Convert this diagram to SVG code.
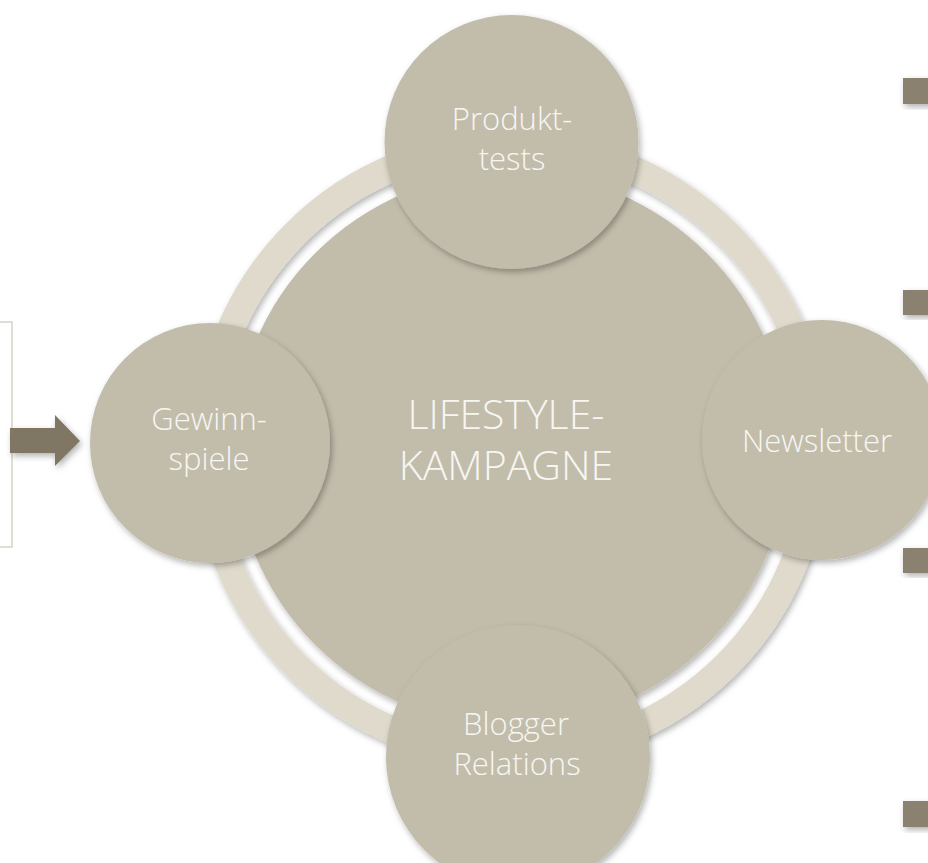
<svg xmlns="http://www.w3.org/2000/svg" width="928" height="863" viewBox="0 0 928 863">
<defs>
<filter id="sh" x="-20%" y="-20%" width="140%" height="140%">
<feDropShadow dx="2" dy="3" stdDeviation="3" flood-color="#000" flood-opacity="0.3"/>
</filter>
<style>
.c{fill:#c2bdab;filter:url(#sh);}
.ring{fill:none;stroke:#dfdacb;stroke-width:27;filter:url(#sh);}
.sq{fill:#8a8170;filter:url(#sh);}
.t{font-family:"Open Sans","Liberation Sans",sans-serif;font-weight:300;fill:#f7f6f2;text-anchor:middle;}
.s{font-size:31px;}
.m{font-size:41px;}
</style>
</defs>
<rect width="928" height="863" fill="#ffffff"/>
<g id="connectors">
<rect x="-10" y="322" width="22" height="225" fill="none" stroke="#d6d2c7" stroke-width="1.5"/>
<path d="M10,428 H55 V415 L80,441 L55,466 V453 H10 Z" fill="#7f7663" filter="url(#sh)"/>
</g>
<g id="ring"><circle class="ring" cx="511" cy="449" r="305"/></g>
<g id="center"><circle class="c" cx="511" cy="449" r="277"/>
<text class="t m" x="506" y="429">LIFESTYLE-</text>
<text class="t m" x="506" y="480">KAMPAGNE</text></g>
<g id="produkttests"><circle class="c" cx="511.5" cy="142" r="127"/>
<text class="t s" x="512" y="130">Produkt-</text>
<text class="t s" x="512" y="170">tests</text></g>
<g id="gewinnspiele"><circle class="c" cx="210" cy="443" r="120"/>
<text class="t s" x="209" y="430">Gewinn-</text>
<text class="t s" x="209" y="470">spiele</text></g>
<g id="newsletter"><circle class="c" cx="822" cy="440" r="120"/>
<text class="t s" x="817" y="452">Newsletter</text></g>
<g id="blogger"><circle class="c" cx="518" cy="757" r="132"/>
<text class="t s" x="516" y="735">Blogger</text>
<text class="t s" x="517" y="775">Relations</text></g>
<g id="bullets">
<rect class="sq" x="903" y="78" width="30" height="26"/>
<rect class="sq" x="903" y="290" width="30" height="25"/>
<rect class="sq" x="903" y="548" width="30" height="25"/>
<rect class="sq" x="903" y="801" width="30" height="26"/>
</g>
</svg>
